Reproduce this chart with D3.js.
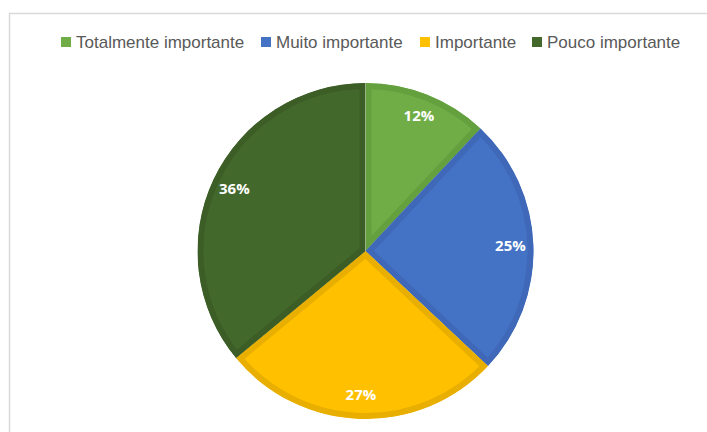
<!DOCTYPE html>
<head>
    <script src="https://d3js.org/d3.v7.min.js"></script>
    <style>
        body { margin: 0; background: #fff; }
    </style>
</head>

<body>
    <div id="pie"></div>
</body>

<script>
    const width = 707,
        height = 432;

    // data
    const categories = ["Totalmente importante", "Muito importante", "Importante", "Pouco importante"];
    const values = [12, 25, 27, 36];
    const fills = ["#70AD47", "#4472C4", "#FFC000", "#43682B"];
    const borders = ["#64A03D", "#3F69B8", "#E8AE00", "#3C5E26"];

    const cx = 365.5, cy = 251, radius = 168;

    const svg = d3.select("#pie")
        .append("svg")
        .attr("width", width)
        .attr("height", height);

    // chart frame
    svg.append("path")
        .attr("d", "M9.5,440 V13.5 H720")
        .attr("fill", "none")
        .attr("stroke", "#d9d9d9")
        .attr("stroke-width", 1.5);

    const pie = d3.pie()
        .value(d => d)
        .sort(null);

    const arc = d3.arc()
        .innerRadius(0)
        .outerRadius(radius);

    const labelArc = d3.arc()
        .innerRadius(145)
        .outerRadius(145);

    const slices = pie(values);

    const defs = svg.append("defs");
    defs.selectAll("clipPath").data(slices)
        .join("clipPath")
        .attr("id", (d, i) => "clip" + i)
        .append("path")
        .attr("d", arc);

    const g = svg.append("g")
        .attr("transform", `translate(${cx}, ${cy})`);

    // border drawn inside each slice, like Excel
    g.selectAll("path.slice").data(slices)
        .join("path")
        .attr("class", "slice")
        .attr("d", arc)
        .attr("fill", (d, i) => fills[i])
        .attr("stroke", (d, i) => borders[i])
        .attr("stroke-width", 12)
        .attr("stroke-linejoin", "miter")
        .attr("clip-path", (d, i) => `url(#clip${i})`);

    g.selectAll("text.lbl").data(slices)
        .join("text")
        .attr("class", "lbl")
        .attr("transform", d => `translate(${labelArc.centroid(d)})`)
        .attr("text-anchor", "middle")
        .attr("dy", "0.3em")
        .style("font-family", "'Open Sans', sans-serif")
        .style("font-weight", "bold")
        .style("font-size", "15px")
        .attr("fill", "#fff")
        .text(d => d.data + "%");

    // legend
    const legendX = [61, 261, 420, 532];
    const legend = svg.append("g")
        .selectAll("g").data(categories)
        .join("g")
        .attr("transform", (d, i) => `translate(${legendX[i]}, 37)`);

    legend.append("rect")
        .attr("width", 10)
        .attr("height", 10)
        .attr("fill", (d, i) => fills[i]);

    legend.append("text")
        .attr("x", 15)
        .attr("y", 10.5)
        .style("font-family", "'Liberation Sans Narrow', sans-serif")
        .style("font-size", "17px")
        .attr("fill", "#595959")
        .text(d => d);

</script>
</html>
